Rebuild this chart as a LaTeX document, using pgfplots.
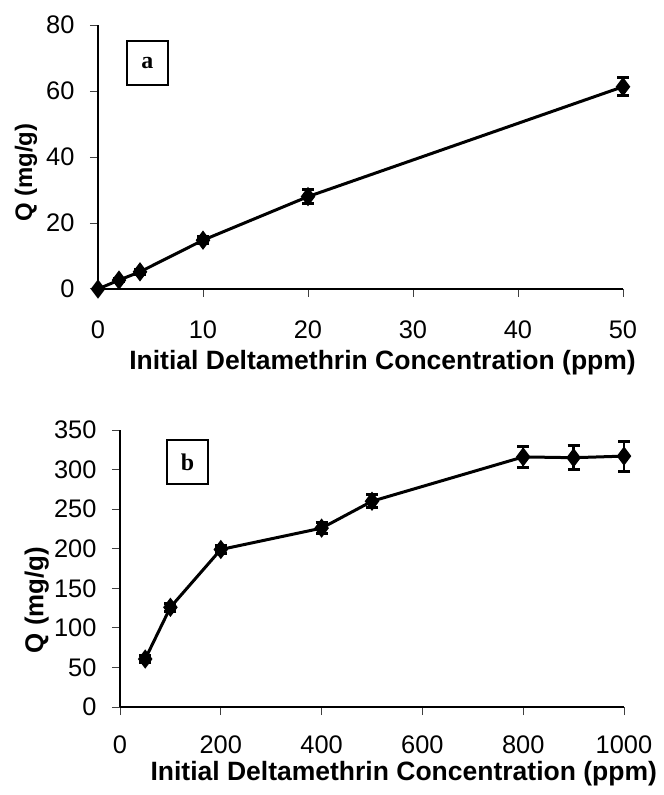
\documentclass[border=0pt]{standalone}
\usepackage{fontspec}
\setmainfont{Liberation Sans}
\newfontfamily\serifbox{Liberation Serif}
\usepackage{pgfplots}
\pgfplotsset{compat=1.18}
\pgfplotsset{
  common/.style={
    scale only axis,
    axis lines=left,
    axis line style={-, line width=0.6bp},
    tick align=outside, tick pos=left,
    major tick length=4bp,
    tick style={line width=0.5bp, color=black!75},
    /pgf/number format/assume math mode=true,
    /pgf/number format/1000 sep={},
    tick label style={font=\fontsize{12.75}{14}\selectfont},
    yticklabel style={anchor=east, xshift=-4.25bp},
    clip=false,
  },
  dat/.style={
    black, line width=1.5bp, mark=diamond*, mark size=3.6bp,
    mark options={solid, fill=black},
    error bars/y dir=both, error bars/y explicit,
    error bars/error mark options={rotate=90, mark size=3bp, line width=1.5bp, black},
    error bars/error bar style={line width=1.2bp, black},
  }
}
\begin{document}
\begin{tikzpicture}
\path[use as bounding box] (0,0) rectangle (332bp,397.5bp);

% ---- panel a ----
\begin{axis}[common,
  at={(49bp,253bp)}, anchor=south west,
  width=262.5bp, height=132bp,
  xmin=0, xmax=50, ymin=0, ymax=80,
  xtick={0,10,20,30,40,50}, ytick={0,20,40,60,80},
  xticklabel style={anchor=north, yshift=-8.25bp},
  every axis x label/.style={at={(axis description cs:0.542,-0.280)}, anchor=center},
  every axis y label/.style={at={(axis description cs:-0.137,0.44)}, rotate=90, anchor=center},
  xlabel={\fontsize{13.3}{15}\selectfont\bfseries Initial Deltamethrin Concentration (ppm)},
  ylabel={\fontsize{12}{14}\selectfont\bfseries Q (mg/g)},
]
\addplot[dat] coordinates {
  (0,0) +- (0,0)
  (2,2.7) +- (0,0.5)
  (4,5.2) +- (0,0.8)
  (10,14.8) +- (0,1.0)
  (20,28.0) +- (0,2.1)
  (50,61.3) +- (0,2.7)
};
\node[draw, line width=1bp, minimum width=20.5bp, minimum height=22bp, inner sep=0pt,
  font=\serifbox\bfseries\fontsize{12}{14}\selectfont] at (rel axis cs:0.094,0.856) {a};
\end{axis}

% ---- panel b ----
\begin{axis}[common,
  at={(60bp,44bp)}, anchor=south west,
  width=252bp, height=138.5bp,
  xmin=0, xmax=1000, ymin=0, ymax=350,
  xtick={0,200,400,600,800,1000}, ytick={0,50,100,150,200,250,300,350},
  xticklabel style={anchor=north, yshift=-6.75bp},
  every axis x label/.style={at={(axis description cs:0.563,-0.242)}, anchor=center},
  every axis y label/.style={at={(axis description cs:-0.165,0.386)}, rotate=90, anchor=center},
  xlabel={\fontsize{13.3}{15}\selectfont\bfseries Initial Deltamethrin Concentration (ppm)},
  ylabel={\fontsize{13}{15}\selectfont\bfseries Q (mg/g)},
]
\addplot[dat] coordinates {
  (50,60.6) +- (0,4)
  (100,126) +- (0,5)
  (200,199) +- (0,5)
  (400,226) +- (0,7)
  (500,260) +- (0,8)
  (800,316) +- (0,13)
  (900,315) +- (0,15)
  (1000,317) +- (0,19)
};
\node[draw, line width=1bp, minimum width=20.5bp, minimum height=22bp, inner sep=0pt,
  font=\serifbox\bfseries\fontsize{12}{14}\selectfont] at (rel axis cs:0.134,0.884) {b};
\end{axis}
\end{tikzpicture}
\end{document}
